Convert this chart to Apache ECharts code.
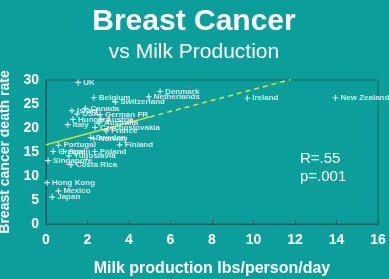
<!DOCTYPE html>
<html>
<head>
<meta charset="utf-8">
<script src="https://cdn.jsdelivr.net/npm/echarts@6/dist/echarts.min.js"></script>
<style>
html,body{margin:0;padding:0;background:#0b9e9b;}
#c{width:389px;height:279px;}
</style>
</head>
<body>
<div id="c"></div>
<script>
const countries = ['UK','Belgium','Switzerland','Denmark','Netherlands','Ireland','New Zealand','Israel','Canada','USA','German FR','Hungary','Australia','Austria','Italy','Czechoslovakia','France','Sweden','Norway','Finland','Portugal','Greece','Spain','Poland','Yugoslavia','Singapore','Costa Rica','Hong Kong','Mexico','Japan'];
const milk = [1.55,2.3,3.35,5.5,4.95,9.7,13.95,1.25,1.9,1.5,2.6,1.3,2.55,2.65,1.05,2.36,2.9,2.15,2.3,3.55,0.6,0.35,0.85,2.35,1.1,0.1,1.2,0.05,0.6,0.3];
const deathRate = [29.5,26.3,25.4,27.6,26.5,26.2,26.3,23.6,24.1,22.9,22.8,21.8,21.0,21.8,20.7,20.1,19.4,18.0,17.8,16.5,16.4,15.1,15.1,15.1,14.2,13.2,12.3,8.6,6.9,5.6];
const trendSolidX = [0, 5.0];
const trendSolidY = [16.5, 22.3];
const trendDashX = [5.0, 11.8];
const trendDashY = [22.3, 30.1];
const xTicks = [0,2,4,6,8,10,12,14,16];
const yTicks = [0,5,10,15,20,25,30];

const pts = countries.map((n,i)=>({name:n, value:[milk[i], deathRate[i]]}));
const plus = 'path://M4,0H6V4H10V6H6V10H4V6H0V4H4Z';
const chart = echarts.init(document.getElementById('c'), null, {renderer:'canvas'});
chart.setOption({
  backgroundColor:'#0b9e9b',
  animation:false,
  title:[
    {text:'Breast Cancer', left:189, top:2, textAlign:'center',
     textStyle:{color:'#ffffff', fontFamily:'Liberation Sans, Arial', fontWeight:'bold', fontSize:30}},
    {text:'vs Milk Production', left:189, top:37, textAlign:'center',
     textStyle:{color:'#ffffff', fontFamily:'Liberation Sans, Arial', fontWeight:'normal', fontSize:21}}
  ],
  grid:{left:46, right:11, top:80, bottom:55, outerBoundsMode:'none', containLabel:false,
    show:true, borderColor:'#1d5e5b', borderWidth:1, backgroundColor:'transparent'},
  xAxis:{type:'value', min:0, max:16, interval:2,
    name:'Milk production lbs/person/day', nameLocation:'middle', nameGap:37,
    nameTextStyle:{color:'#ffffff', fontWeight:'bold', fontSize:16, fontFamily:'Liberation Sans, Arial'},
    axisLine:{show:true, lineStyle:{color:'#1d5e5b', width:1}},
    axisTick:{show:true, inside:true, length:4, lineStyle:{color:'#1d5e5b'}},
    axisLabel:{color:'#ffffff', fontWeight:'bold', fontSize:14, margin:9, fontFamily:'Liberation Sans, Arial',
      formatter:v=>xTicks.includes(v)?String(v):''},
    splitLine:{show:false}},
  yAxis:{type:'value', min:0, max:30, interval:5,
    name:'Breast cancer death rate', nameLocation:'middle', nameGap:26, nameRotate:90,
    nameTextStyle:{color:'#ffffff', fontWeight:'bold', fontSize:14, fontFamily:'Liberation Sans, Arial'},
    axisLine:{show:true, lineStyle:{color:'#1d5e5b', width:1}},
    axisTick:{show:false},
    axisLabel:{color:'#ffffff', fontWeight:'bold', fontSize:14, margin:7, fontFamily:'Liberation Sans, Arial',
      formatter:v=>yTicks.includes(v)?String(v):''},
    splitLine:{show:false}},
  series:[
    {type:'line', data:trendSolidX.map((x,i)=>[x,trendSolidY[i]]), symbol:'none',
     lineStyle:{color:'#c6e04a', width:1.5, type:'solid'}, z:1},
    {type:'line', data:trendDashX.map((x,i)=>[x,trendDashY[i]]), symbol:'none',
     lineStyle:{color:'#d8e63c', width:1.5, type:[5,4]}, z:1},
    {type:'scatter', data:pts, symbol:plus, symbolSize:6, clip:false,
     itemStyle:{color:'#ffffff'},
     label:{show:true, position:'right', distance:2, formatter:'{b}', color:'#ffffff',
       fontSize:8, fontWeight:'bold', fontFamily:'Liberation Sans, Arial'}, z:3}
  ],
  graphic:[
    {type:'text', left:300, top:151, style:{text:'R=.55', fill:'#ffffff', font:'15px Liberation Sans, Arial'}},
    {type:'text', left:300, top:169, style:{text:'p=.001', fill:'#ffffff', font:'15px Liberation Sans, Arial'}}
  ]
});
</script>
</body>
</html>
